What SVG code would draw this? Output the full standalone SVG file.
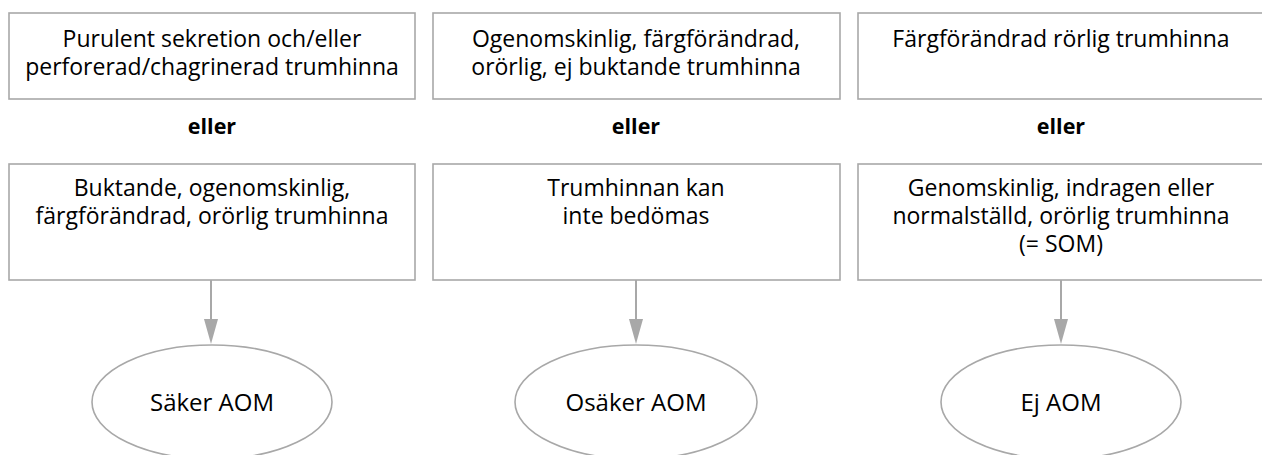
<svg xmlns="http://www.w3.org/2000/svg" width="1262" height="455" viewBox="0 0 1262 455">
<defs>
<style>
.box{fill:#fff;stroke:#a8a8a8;stroke-width:1.6}
.ell{fill:#fff;stroke:#a8a8a8;stroke-width:1.6}
.t{font-family:"Open Sans","Noto Sans",sans-serif;font-size:23px;fill:#000;text-anchor:middle}
.o{font-family:"Open Sans","Noto Sans",sans-serif;font-size:24px;fill:#000;text-anchor:middle}
.b{font-family:"Open Sans","Noto Sans",sans-serif;font-size:21.5px;font-weight:bold;fill:#000;text-anchor:middle}
</style>
</defs>
<rect width="1262" height="455" fill="#fff"/>
<g id="n1"><rect class="box" x="9" y="13" width="406" height="86"/><text class="t" x="212" y="47">Purulent sekretion och/eller</text><text class="t" x="212" y="75">perforerad/chagrinerad trumhinna</text></g>
<g id="n2"><rect class="box" x="433" y="13" width="407" height="86"/><text class="t" x="636" y="47">Ogenomskinlig, färgförändrad,</text><text class="t" x="636" y="75">orörlig, ej buktande trumhinna</text></g>
<g id="n3"><rect class="box" x="858" y="13" width="410" height="86"/><text class="t" x="1061" y="47">Färgförändrad rörlig trumhinna</text></g>
<g id="e1"><text class="b" x="212" y="134">eller</text></g>
<g id="e2"><text class="b" x="636" y="134">eller</text></g>
<g id="e3"><text class="b" x="1061" y="134">eller</text></g>
<g id="n4"><rect class="box" x="9" y="164" width="406" height="116"/><text class="t" x="212" y="196">Buktande, ogenomskinlig,</text><text class="t" x="212" y="224">färgförändrad, orörlig trumhinna</text></g>
<g id="n5"><rect class="box" x="433" y="164" width="407" height="116"/><text class="t" x="636" y="196">Trumhinnan kan</text><text class="t" x="636" y="224">inte bedömas</text></g>
<g id="n6"><rect class="box" x="858" y="164" width="410" height="116"/><text class="t" x="1061" y="196">Genomskinlig, indragen eller</text><text class="t" x="1061" y="224">normalställd, orörlig trumhinna</text><text class="t" x="1061" y="252">(= SOM)</text></g>
<g id="connectors">
<line x1="211" y1="280" x2="211" y2="319" stroke="#a8a8a8" stroke-width="2"/><path d="M204,319 L218,319 L211,344 Z" fill="#a8a8a8"/>
<line x1="636" y1="280" x2="636" y2="319" stroke="#a8a8a8" stroke-width="2"/><path d="M629,319 L643,319 L636,344 Z" fill="#a8a8a8"/>
<line x1="1061" y1="280" x2="1061" y2="319" stroke="#a8a8a8" stroke-width="2"/><path d="M1054,319 L1068,319 L1061,344 Z" fill="#a8a8a8"/>
</g>
<g id="o1"><ellipse class="ell" cx="212" cy="402" rx="120" ry="57"/><text class="o" x="212" y="411">Säker AOM</text></g>
<g id="o2"><ellipse class="ell" cx="636" cy="402" rx="121" ry="57"/><text class="o" x="636" y="411">Osäker AOM</text></g>
<g id="o3"><ellipse class="ell" cx="1061" cy="402" rx="120" ry="57"/><text class="o" x="1061" y="411">Ej AOM</text></g>
</svg>
